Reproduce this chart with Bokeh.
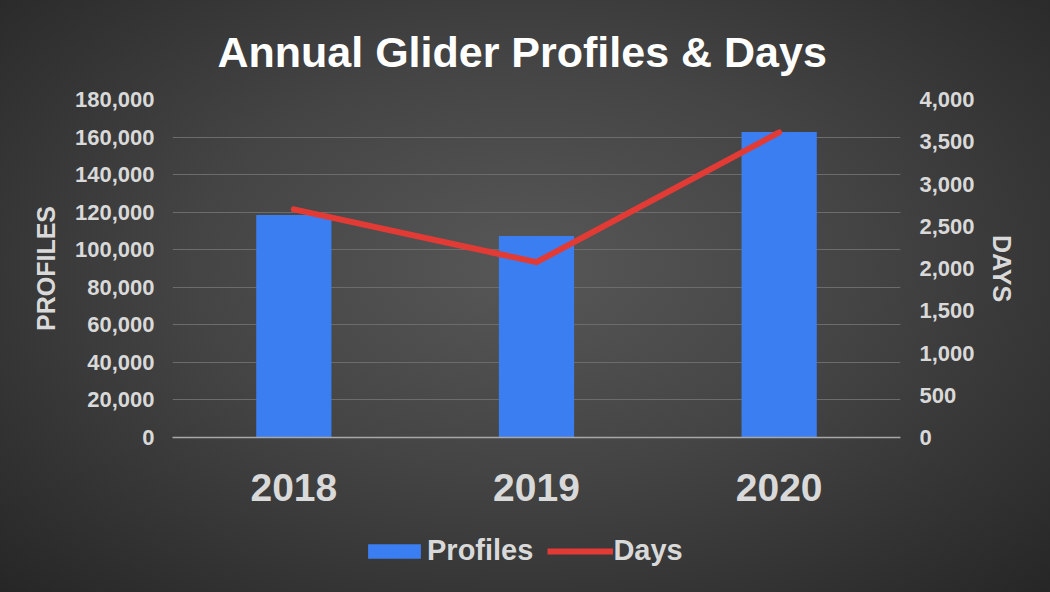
from bokeh.plotting import figure
from bokeh.layouts import column
from bokeh.models import (Range1d, LinearAxis, FixedTicker, NumeralTickFormatter,
                          Legend, LegendItem, FactorRange, ColumnDataSource)
from bokeh.embed import file_html
from bokeh.resources import INLINE

years = ["2018", "2019", "2020"]
profiles = [118500, 107300, 162700]
days = [2700, 2075, 3610]
profile_ticks = [0, 20000, 40000, 60000, 80000, 100000, 120000, 140000, 160000, 180000]
day_ticks = [0, 500, 1000, 1500, 2000, 2500, 3000, 3500, 4000]

FONT = "Liberation Sans"
LABEL = "#d9d9d9"
BLUE = "#3b7ef2"
RED = "#e23b36"

src = ColumnDataSource(dict(year=years, profiles=profiles, days=days))

p = figure(x_range=FactorRange(*years), y_range=Range1d(0, 180000),
           width=1050, height=520, output_backend="svg", toolbar_location=None,
           min_border_left=172, min_border_right=150, min_border_top=99,
           min_border_bottom=83)
p.extra_y_ranges = {"days": Range1d(0, 4000)}

p.background_fill_alpha = 0
p.border_fill_alpha = 0
p.outline_line_color = None

# title
p.title.text = "Annual Glider Profiles & Days"
p.title.align = "left"
p.title.text_font = FONT
p.title.text_font_size = "43px"
p.title.text_font_style = "bold"
p.title.text_color = "#ffffff"
p.title.standoff = 48
p.title.offset = 45

# grid
p.xgrid.visible = False
p.ygrid.ticker = FixedTicker(ticks=profile_ticks)
p.ygrid.grid_line_color = "#6c6c6c"
p.ygrid.grid_line_width = 1

bars = p.vbar(x="year", top="profiles", width=0.31, source=src,
              fill_color=BLUE, line_color=None)
line = p.line(x="year", y="days", source=src, y_range_name="days",
              line_color=RED, line_width=6, line_cap="round", line_join="round")

# left axis
ya = p.yaxis[0]
ya.ticker = FixedTicker(ticks=profile_ticks)
ya.formatter = NumeralTickFormatter(format="0,0")
ya.axis_label = "PROFILES"

right = LinearAxis(y_range_name="days", ticker=FixedTicker(ticks=day_ticks),
                   formatter=NumeralTickFormatter(format="0,0"), axis_label="DAYS")
p.add_layout(right, "right")

for ax in [ya, right]:
    ax.axis_line_color = None
    ax.major_tick_line_color = None
    ax.minor_tick_line_color = None
    ax.major_label_text_font = FONT
    ax.major_label_text_font_size = "22px"
    ax.major_label_text_font_style = "bold"
    ax.major_label_text_color = LABEL
    ax.axis_label_text_font = FONT
    ax.axis_label_text_font_size = "25px"
    ax.axis_label_text_font_style = "bold"
    ax.axis_label_text_color = LABEL
ya.major_label_standoff = 12
ya.axis_label_standoff = 12
right.major_label_standoff = 13
right.axis_label_standoff = 10

xa = p.xaxis[0]
xa.axis_line_color = "#a8a8a8"
xa.axis_line_width = 1.5
xa.major_tick_line_color = None
xa.minor_tick_line_color = None
xa.major_label_text_font = FONT
xa.major_label_text_font_size = "39px"
xa.major_label_text_font_style = "bold"
xa.major_label_text_color = LABEL
xa.major_label_standoff = 30

# legend strip (separate figure so the legend is not clipped)
lf = figure(x_range=p.x_range, y_range=Range1d(0, 180000), width=1050, height=72,
            output_backend="svg", toolbar_location=None, min_border=0)
lf.extra_y_ranges = {"days": Range1d(0, 4000)}
lf.axis.visible = False
lf.grid.visible = False
lf.outline_line_color = None
lf.background_fill_alpha = 0
lf.border_fill_alpha = 0
lbars = lf.vbar(x="year", top="profiles", width=0.31, source=src,
                fill_color=BLUE, line_color=None, visible=False)
lline = lf.line(x="year", y="days", source=src, y_range_name="days",
                line_color=RED, line_width=6, visible=False)

legend = Legend(items=[LegendItem(label="Profiles", renderers=[lbars]),
                       LegendItem(label="Days", renderers=[lline])],
                orientation="horizontal", location=(189, 25),
                label_text_font=FONT, label_text_font_size="29px",
                label_text_font_style="bold", label_text_color=LABEL,
                glyph_width=66, glyph_height=18, label_standoff=0, spacing=14,
                background_fill_alpha=0, border_line_color=None,
                margin=0, padding=6)
lf.add_layout(legend)

layout = column(p, lf, spacing=0,
                styles={"background": "radial-gradient(ellipse at 50% 45%, #575757 0%, #444444 45%, #262626 100%)"})

open("out.html", "w").write(file_html(layout, INLINE))
